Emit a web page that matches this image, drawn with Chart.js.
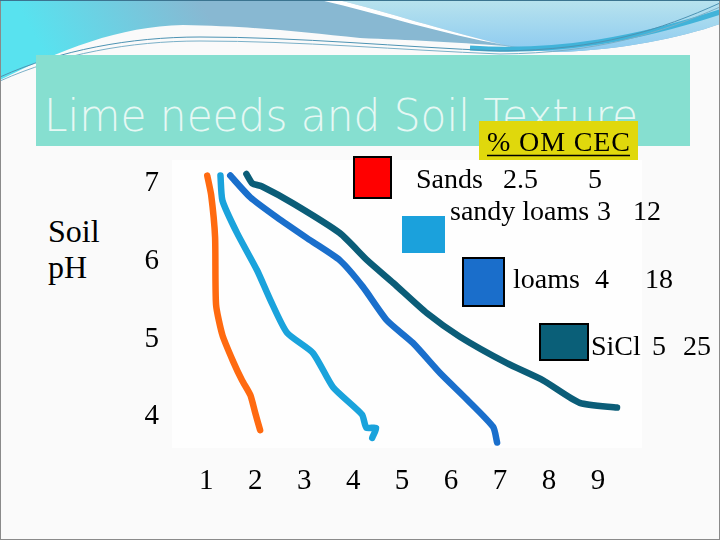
<!DOCTYPE html>
<html>
<head>
<meta charset="utf-8">
<script src="https://cdn.jsdelivr.net/npm/chart.js@4.4.1/dist/chart.umd.min.js"></script>
<style>
  html, body { margin: 0; padding: 0; background: #ffffff; }
  #slide { position: relative; width: 720px; height: 540px; overflow: hidden; background: #fafafa; }
  #slide svg, #slide canvas { position: absolute; left: 0; top: 0; }
</style>
</head>
<body>
<div id="slide">
  <svg id="bg" width="720" height="540">
    <defs>
      <linearGradient id="gLeft" gradientUnits="userSpaceOnUse" x1="200" y1="0" x2="60" y2="80">
        <stop offset="0" stop-color="#88b8d2"/>
        <stop offset="1" stop-color="#58e2ef"/>
      </linearGradient>
      <linearGradient id="gRight" gradientUnits="userSpaceOnUse" x1="0" y1="0" x2="0" y2="50">
        <stop offset="0" stop-color="#b8e3ee"/>
        <stop offset="1" stop-color="#8ecbf0"/>
      </linearGradient>
    </defs>
    <!-- wave decoration along the top of the slide -->
    <path d="M0,0 H720 V24 C680,38 620,50 560,52 C530,51 515,48 505,46 C450,42 410,40 360,38 C300,32 250,26 183,25 C120,26 60,50 0,80 Z" fill="url(#gLeft)"/>
    <path d="M338,0 H720 V24 C680,38 620,50 560,52 C535,50 518,47 505,45 C440,30 388,12 338,0 Z" fill="url(#gRight)"/>
    <path d="M320,0 H338 C388,12 440,30 505,45 C440,34 382,14 320,0 Z" fill="#ffffff"/>
    <path d="M470,48 C560,54 640,38 720,12" fill="none" stroke="#41b3d9" stroke-width="5"/>
    <path d="M0,77 C60,50 130,37 200,37 C300,37 400,47 500,51 C600,50 660,30 720,3" fill="none" stroke="#4d93b3" stroke-width="1"/>
    <path d="M0,81 C60,54 130,41 200,41 C300,41 400,50 500,54 C600,53 660,33 720,7" fill="none" stroke="#7ab0c8" stroke-width="1"/>
    <!-- title -->
    <rect x="36" y="55" width="654" height="91" fill="#86dfd0"/>
    <text x="44" y="131" textLength="594" lengthAdjust="spacingAndGlyphs"
          font-family="'Comic Sans MS', 'DejaVu Sans'" font-weight="200" font-size="45" fill="#e6f8f4">Lime needs and Soil Texture</text>
    <!-- axis title -->
    <text x="48" y="242" font-family="'Liberation Serif', 'Times New Roman', serif" font-size="32" fill="#000">Soil</text>
    <text x="48" y="278" font-family="'Liberation Serif', 'Times New Roman', serif" font-size="32" fill="#000">pH</text>
    <rect x="0.5" y="0.5" width="719" height="539" fill="none" stroke="#8a8a8a" stroke-width="1"/>
    <line x1="0" y1="0.5" x2="720" y2="0.5" stroke="#3b7490" stroke-width="1"/>
  </svg>
  <canvas id="limeChart" width="720" height="540"></canvas>
  <svg id="legend" width="720" height="540"></svg>
</div>
<script>
// values: amount of lime (x) against soil pH (y)
const xTicks = [1, 2, 3, 4, 5, 6, 7, 8, 9];
const yTicks = [4, 5, 6, 7];

const sandsX  = [1.02, 1.10, 1.18, 1.20, 1.33, 1.55, 1.73, 1.90, 2.00, 2.10];
const sandsPH = [7.10, 6.85, 6.31, 5.44, 5.05, 4.71, 4.47, 4.28, 4.05, 3.83];

const sandyX  = [1.29, 1.33, 1.63, 2.04, 2.31, 2.65, 3.18, 3.59, 4.18, 4.27, 4.47, 4.39];
const sandyPH = [7.10, 6.78, 6.36, 5.88, 5.50, 5.08, 4.82, 4.38, 4.03, 3.86, 3.86, 3.73];

const loamX  = [1.49, 1.90, 2.45, 3.12, 3.73, 4.20, 4.69, 5.22, 5.78, 6.33, 6.86, 6.94];
const loamPH = [7.10, 6.82, 6.56, 6.27, 6.01, 5.67, 5.24, 4.95, 4.56, 4.22, 3.87, 3.67];

const siclX  = [1.82, 1.94, 2.14, 2.78, 3.73, 4.29, 4.82, 5.51, 6.18, 7.14, 7.88, 8.63, 9.39];
const siclPH = [7.12, 7.00, 6.96, 6.74, 6.36, 6.01, 5.72, 5.33, 5.03, 4.69, 4.47, 4.18, 4.12];

// legend table
const soilNames = ['Sands', 'sandy loams', 'loams', 'SiCl'];
const omValues  = ['2.5', '3', '4', '5'];
const cecValues = ['5', '12', '18', '25'];

const lineColors = ['#ff6a10', '#1aa3dc', '#1a6fcc', '#0b5d78'];
const boxColors  = ['#ff0000', '#1ba1dc', '#1a6ecb', '#0a5f78'];

const serif = "'Liberation Serif', 'Times New Roman', serif";

function points(xs, ys) {
    return xs.map((x, i) => ({ x: x, y: ys[i] }));
}

function curve(label, xs, ys, color) {
    return {
        label: label,
        data: points(xs, ys),
        showLine: true,
        fill: false,
        borderColor: color,
        backgroundColor: color,
        borderWidth: 6.5,
        borderCapStyle: 'round',
        borderJoinStyle: 'round',
        pointRadius: 0,
        tension: 0.2
    };
}

// faint panel behind the plot
const panelPlugin = {
    id: 'panel',
    beforeDraw(chart) {
        const a = chart.chartArea;
        const ctx = chart.ctx;
        ctx.save();
        ctx.fillStyle = '#fefefe';
        ctx.fillRect(a.left, a.top, a.right - a.left, a.bottom - a.top);
        ctx.restore();
    }
};

new Chart(document.getElementById('limeChart'), {
    type: 'scatter',
    data: {
        datasets: [
            curve(soilNames[0], sandsX, sandsPH, lineColors[0]),
            curve(soilNames[1], sandyX, sandyPH, lineColors[1]),
            curve(soilNames[2], loamX, loamPH, lineColors[2]),
            curve(soilNames[3], siclX, siclPH, lineColors[3])
        ]
    },
    options: {
        responsive: false,
        animation: false,
        layout: { padding: { left: 112, right: 78, top: 160, bottom: 32 } },
        plugins: {
            legend: { display: false },
            tooltip: { enabled: false }
        },
        scales: {
            x: {
                type: 'linear',
                min: 0.3,
                max: 9.9,
                grid: { display: false, drawTicks: false },
                border: { display: false },
                afterBuildTicks: (scale) => { scale.ticks = xTicks.map(v => ({ value: v })); },
                afterFit: (scale) => { scale.height = 60; },
                ticks: { padding: 16, color: '#000', font: { family: serif, size: 29 } }
            },
            y: {
                type: 'linear',
                min: 3.6,
                max: 7.3,
                grid: { display: false, drawTicks: false },
                border: { display: false },
                afterBuildTicks: (scale) => { scale.ticks = yTicks.map(v => ({ value: v })); },
                afterFit: (scale) => { scale.width = 60; },
                ticks: { padding: 13, color: '#000', font: { family: serif, size: 29 } }
            }
        }
    },
    plugins: [panelPlugin]
});

// hand-placed legend boxes and the % OM / CEC table
const legendLayout = [
    { box: [354, 157, 37, 41], edge: true,  base: 188, cols: [416, 503, 588] },
    { box: [402, 216, 43, 37], edge: false, base: 220, cols: [450, 597, 633] },
    { box: [463, 258, 41, 48], edge: true,  base: 288, cols: [513, 595, 645] },
    { box: [540, 324, 48, 36], edge: true,  base: 355, cols: [591, 652, 683] }
];

const NS = 'http://www.w3.org/2000/svg';
const legendSvg = document.getElementById('legend');

function svgEl(tag, attrs, text) {
    const el = document.createElementNS(NS, tag);
    for (const k in attrs) el.setAttribute(k, attrs[k]);
    if (text !== undefined) el.textContent = text;
    legendSvg.appendChild(el);
    return el;
}

// yellow header box sits over the title
svgEl('rect', { x: 479, y: 121, width: 159, height: 39, fill: '#e0d80c' });
svgEl('text', { x: 487, y: 151, 'font-family': serif, 'font-size': 28, fill: '#000',
                textLength: 143, lengthAdjust: 'spacing' }, '% OM CEC');
svgEl('line', { x1: 487, y1: 155.5, x2: 630, y2: 155.5, stroke: '#000', 'stroke-width': 1.5 });

legendLayout.forEach((row, i) => {
    svgEl('rect', {
        x: row.box[0], y: row.box[1], width: row.box[2], height: row.box[3],
        fill: boxColors[i], stroke: row.edge ? '#000' : 'none', 'stroke-width': 2
    });
    const cells = [soilNames[i], omValues[i], cecValues[i]];
    cells.forEach((txt, j) => {
        svgEl('text', { x: row.cols[j], y: row.base, 'font-family': serif, 'font-size': 28, fill: '#000' }, txt);
    });
});
</script>
</body>
</html>
